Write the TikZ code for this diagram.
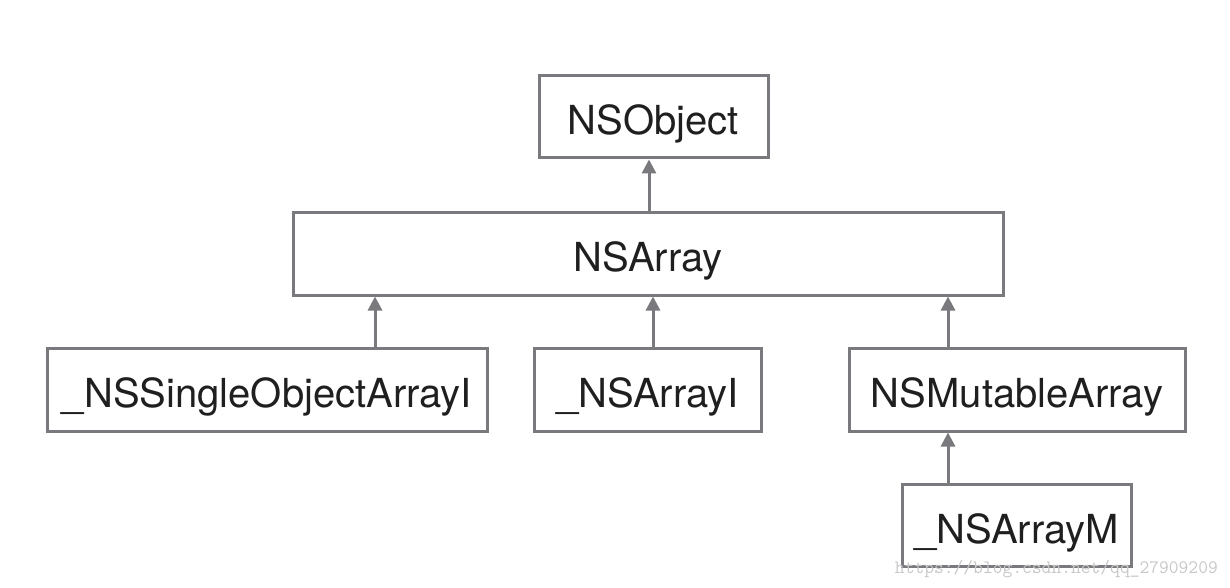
\documentclass[tikz,border=0pt]{standalone}
\usepackage{fontspec}
\setmainfont{TeX Gyre Heros}
\usetikzlibrary{arrows.meta}
\definecolor{linegray}{HTML}{7A7A7E}
\definecolor{wmgray}{HTML}{C8C8C8}
\begin{document}
\begin{tikzpicture}[x=1pt,y=-1pt,
  cls/.style={draw=linegray,line width=3pt,fill=white,inner sep=0pt,text height=28pt,text depth=0pt,font=\fontsize{40}{44}\selectfont,text=black!88},
  inh/.style={draw=linegray,line width=3pt,-{Triangle[length=14pt,width=14pt]}}]
\useasboundingbox (0,0) rectangle (1230,588);
\fill[white] (0,0) rectangle (1230,588);
\node[cls,minimum width=229pt,minimum height=82pt] (obj) at (653.5,117) {\raisebox{-4pt}{NSObject}};
\node[cls,minimum width=710pt,minimum height=83pt] (arr) at (648,253.5) {\raisebox{-4pt}{NSArray}};
\node[cls,minimum width=440pt,minimum height=83pt] (single) at (267,389.5) {\raisebox{-4pt}{\_NSSingleObjectArrayI}};
\node[cls,minimum width=227pt,minimum height=83pt] (arri) at (647.5,389.5) {\raisebox{-4pt}{\_NSArrayI}};
\node[cls,minimum width=336pt,minimum height=83pt] (mut) at (1017,389.5) {\raisebox{-4pt}{NSMutableArray}};
\node[cls,minimum width=229pt,minimum height=82pt] (arrm) at (1016.5,525) {\raisebox{-4pt}{\_NSArrayM}};
\draw[inh] (arr.north -| 649,0) -- (obj.south -| 649,0);
\draw[inh] (single.north -| 375,0) -- (arr.south -| 375,0);
\draw[inh] (arri.north -| 653,0) -- (arr.south -| 653,0);
\draw[inh] (mut.north -| 948,0) -- (arr.south -| 948,0);
\draw[inh] (arrm.north -| 948,0) -- (mut.south -| 948,0);
\node[anchor=base east,text=wmgray,font=\ttfamily\fontsize{19}{21}\selectfont,inner sep=0pt] (wm) at (1218,573) {https://blog.csdn.net/qq\_27909209};
\end{tikzpicture}
\end{document}
